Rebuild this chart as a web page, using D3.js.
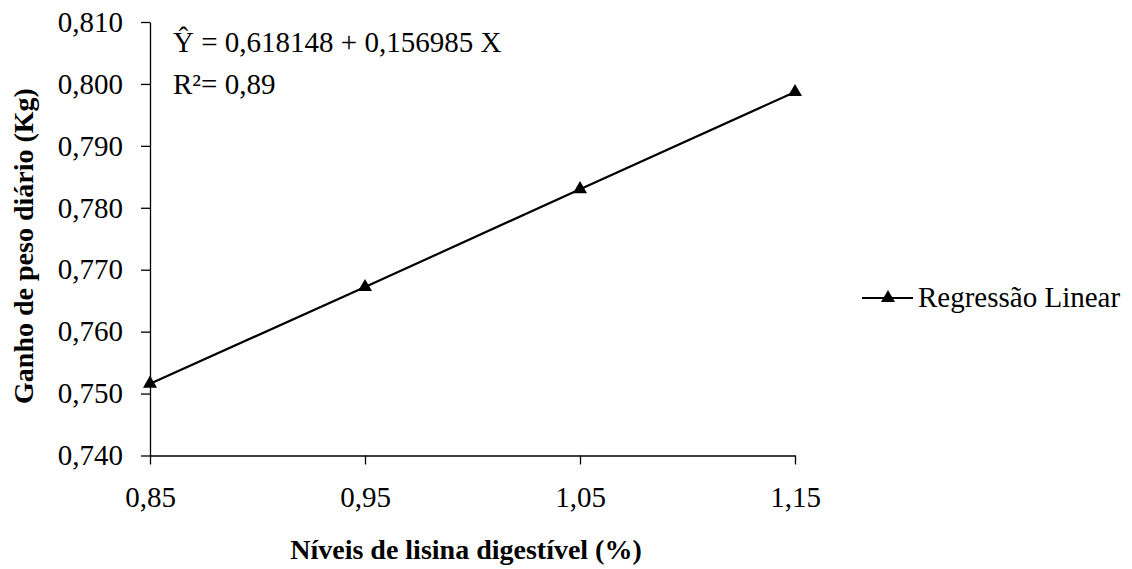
<!DOCTYPE html>
<html><head><meta charset="utf-8">
<script src="https://cdn.jsdelivr.net/npm/d3@7"></script>
<style>html,body{margin:0;padding:0;background:#fff;}</style>
</head>
<body>
<svg id="chart" width="1132" height="569"></svg>
<script>
const xLevels = [0.85, 0.95, 1.05, 1.15];
const gainValues = [0.7516, 0.7672, 0.7830, 0.7987];
const yTicks = [0.740, 0.750, 0.760, 0.770, 0.780, 0.790, 0.800, 0.810];
const seriesName = "Regressão Linear";
const xTitle = "Níveis de lisina digestível (%)";
const yTitle = "Ganho de peso diário (Kg)";
const eqLine1 = "Ŷ = 0,618148 + 0,156985 X";
const eqLine2 = "R²= 0,89";

const FONT = "Liberation Serif";
const svg = d3.select("#chart");
const fmt3 = d => d.toFixed(3).replace(".", ",");
const fmt2 = d => d.toFixed(2).replace(".", ",");

const x = d3.scaleLinear().domain([0.85, 1.15]).range([150, 795]);
const y = d3.scaleLinear().domain([0.740, 0.810]).range([455.5, 22]);

const yAxis = svg.append("g").attr("transform", "translate(150,0)")
  .call(d3.axisLeft(y).tickValues(yTicks).tickFormat(fmt3).tickSize(9).tickPadding(18).tickSizeOuter(0));
const xAxis = svg.append("g").attr("transform", "translate(0,455.5)")
  .call(d3.axisBottom(x).tickValues(xLevels).tickFormat(fmt2).tickSize(9).tickPadding(22).tickSizeOuter(0));
[yAxis, xAxis].forEach(g => {
  g.attr("font-family", FONT).attr("font-size", 29);
  g.selectAll("path.domain").attr("stroke", "#000").attr("stroke-width", 1.3);
  g.selectAll(".tick line").attr("stroke", "#000").attr("stroke-width", 1.3);
  g.selectAll(".tick text").attr("font-size", 29).attr("font-family", FONT).attr("fill", "#000");
});

const data = xLevels.map((v, i) => ({x: v, y: gainValues[i]}));
svg.append("path").datum(data)
  .attr("fill", "none").attr("stroke", "#000").attr("stroke-width", 2.2)
  .attr("d", d3.line().x(d => x(d.x)).y(d => y(d.y)));
const tri = d3.symbol().type(d3.symbolTriangle).size(85);
svg.selectAll("path.pt").data(data).enter().append("path").attr("class", "pt")
  .attr("transform", d => `translate(${x(d.x)},${y(d.y)})`)
  .attr("d", tri).attr("fill", "#000");

svg.append("text").attr("x", 173).attr("y", 52).attr("font-family", FONT).attr("font-size", 29).text(eqLine1);
svg.append("text").attr("x", 173).attr("y", 94).attr("font-family", FONT).attr("font-size", 29).text(eqLine2);

svg.append("text").attr("x", 466).attr("y", 559).attr("text-anchor", "middle").attr("font-family", FONT)
  .attr("font-size", 28).attr("font-weight", "bold").text(xTitle);
svg.append("text").attr("transform", "translate(33,246) rotate(-90)").attr("text-anchor", "middle").attr("font-family", FONT)
  .attr("font-size", 28).attr("font-weight", "bold").text(yTitle);

const lg = svg.append("g");
lg.append("line").attr("x1", 862).attr("x2", 913).attr("y1", 298).attr("y2", 298)
  .attr("stroke", "#000").attr("stroke-width", 2.2);
lg.append("path").attr("transform", "translate(888,298)").attr("d", tri).attr("fill", "#000");
lg.append("text").attr("x", 918).attr("y", 307).attr("font-family", FONT).attr("font-size", 29).text(seriesName);
</script>
</body></html>
